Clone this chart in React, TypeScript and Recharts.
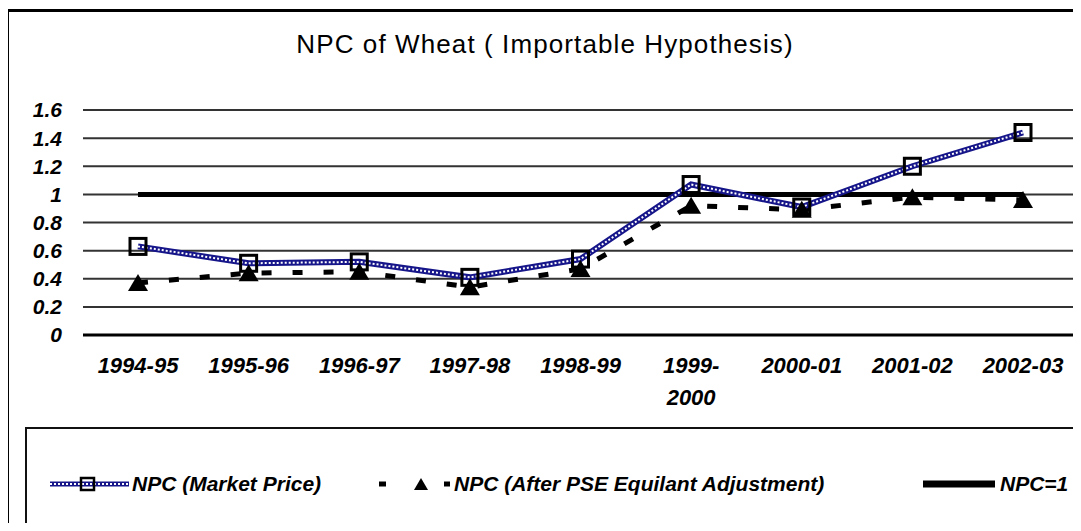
import { LineChart, Line, XAxis, YAxis, CartesianGrid } from 'recharts';

const years = ['1994-95', '1995-96', '1996-97', '1997-98', '1998-99', '1999-\n2000', '2000-01', '2001-02', '2002-03'];
const marketPrice = [0.63, 0.51, 0.52, 0.41, 0.54, 1.07, 0.91, 1.2, 1.44];
const pseAdjusted = [0.37, 0.44, 0.45, 0.34, 0.47, 0.92, 0.89, 0.98, 0.96];
const npcOne = [1, 1, 1, 1, 1, 1, 1, 1, 1];
const yTicks = [0, 0.2, 0.4, 0.6, 0.8, 1, 1.2, 1.4, 1.6];

const FONT = '"Liberation Sans", Arial, sans-serif';
const NAVY = '#16168a';

const chartData = years.map((year, i) => ({
  year,
  market: marketPrice[i],
  adjusted: pseAdjusted[i],
  one: npcOne[i],
}));

const XTick = ({ x, y, payload }: any) => {
  const lines = String(payload.value).split('\n');
  return (
    <text
      x={x}
      y={y + 38}
      textAnchor="middle"
      fill="#000"
      fontFamily={FONT}
      fontSize={22}
      fontWeight="bold"
      fontStyle="italic"
    >
      {lines.map((l, i) => (
        <tspan key={i} x={x} dy={i === 0 ? 0 : 32}>
          {l}
        </tspan>
      ))}
    </text>
  );
};

const TriangleDot = ({ cx, cy, index }: any) => (
  <polygon
    key={`tri-${index}`}
    points={`${cx - 10},${cy + 8} ${cx + 10},${cy + 8} ${cx},${cy - 9}`}
    fill="#000"
  />
);

const SquareDot = ({ cx, cy, index }: any) => (
  <rect key={`sq-${index}`} x={cx - 8} y={cy - 8} width={16} height={16} fill="none" stroke="#000" strokeWidth={3} />
);

const legendText = {
  position: 'absolute' as const,
  top: 470,
  fontFamily: FONT,
  fontSize: 21,
  fontWeight: 'bold' as const,
  fontStyle: 'italic' as const,
  lineHeight: '28px',
  whiteSpace: 'nowrap' as const,
};

export default function App() {
  return (
    <div style={{ position: 'relative', width: 1081, height: 531, margin: -8, overflow: 'hidden', background: '#fff' }}>
      {/* frames */}
      <svg style={{ position: 'absolute', left: 0, top: 0 }} width={1081} height={531}>
        <line x1={7} x2={1081} y1={10.5} y2={10.5} stroke="#000" strokeWidth={3} />
        <line x1={7.5} x2={7.5} y1={9} y2={531} stroke="#000" strokeWidth={3} />
        <line x1={26} x2={1081} y1={428} y2={428} stroke="#111" strokeWidth={2} />
        <line x1={26} x2={26} y1={427} y2={531} stroke="#111" strokeWidth={2} />
        <line x1={26} x2={1081} y1={528} y2={528} stroke="#222" strokeWidth={2} />
      </svg>

      <div
        style={{
          position: 'absolute',
          left: 0,
          width: 1090,
          top: 30,
          textAlign: 'center',
          fontFamily: FONT,
          fontSize: 26,
          letterSpacing: 1.1,
          lineHeight: '28px',
          color: '#000',
        }}
      >
        NPC of Wheat ( Importable Hypothesis)
      </div>

      <div style={{ position: 'absolute', left: 0, top: 0 }}>
        <LineChart width={1081} height={531} data={chartData} margin={{ top: 110, right: 3, bottom: 116, left: 0 }}>
          <CartesianGrid vertical={false} stroke="#333" strokeWidth={2} />
          <XAxis
            dataKey="year"
            height={80}
            padding={{ left: 55, right: 55 }}
            axisLine={{ stroke: '#000', strokeWidth: 3 }}
            tickLine={false}
            tickSize={0}
            tickMargin={0}
            interval={0}
            tick={<XTick />}
          />
          <YAxis
            width={83}
            domain={[0, 1.6]}
            ticks={yTicks}
            interval={0}
            axisLine={false}
            tickLine={false}
            tickSize={0}
            tickMargin={21}
            tickFormatter={(v: number) => String(+v.toFixed(1))}
            tick={{ fill: '#000', fontSize: 21, fontWeight: 'bold', fontStyle: 'italic', fontFamily: FONT }}
          />
          <Line dataKey="one" stroke="#000" strokeWidth={5} dot={false} isAnimationActive={false} />
          <Line
            dataKey="adjusted"
            stroke="#000"
            strokeWidth={5}
            strokeDasharray="10 21"
            dot={(p: any) => <TriangleDot {...p} />}
            isAnimationActive={false}
          />
          <Line dataKey="market" stroke={NAVY} strokeWidth={6} dot={false} isAnimationActive={false} />
          <Line
            dataKey={(d: any) => d.market}
            stroke="#fff"
            strokeWidth={2}
            strokeDasharray="2 2"
            dot={(p: any) => <SquareDot {...p} />}
            isAnimationActive={false}
          />
        </LineChart>
      </div>

      {/* legend */}
      <svg style={{ position: 'absolute', left: 0, top: 470 }} width={1081} height={30}>
        <line x1={50} x2={129} y1={14} y2={14} stroke={NAVY} strokeWidth={5} />
        <line x1={50} x2={129} y1={14} y2={14} stroke="#fff" strokeWidth={2} strokeDasharray="2 2" />
        <rect x={81} y={8} width={13} height={12} fill="none" stroke="#000" strokeWidth={2.5} />
        <line x1={379} x2={386} y1={14} y2={14} stroke="#000" strokeWidth={5} />
        <polygon points="414,20 428,20 421,8" fill="#000" />
        <line x1={444} x2={450} y1={14} y2={14} stroke="#000" strokeWidth={5} />
        <line x1={923} x2={995} y1={14} y2={14} stroke="#000" strokeWidth={7} />
      </svg>
      <div style={{ ...legendText, left: 132 }}>NPC (Market Price)</div>
      <div style={{ ...legendText, left: 454 }}>NPC (After PSE Equilant Adjustment)</div>
      <div style={{ ...legendText, left: 1000 }}>NPC=1</div>
    </div>
  );
}
